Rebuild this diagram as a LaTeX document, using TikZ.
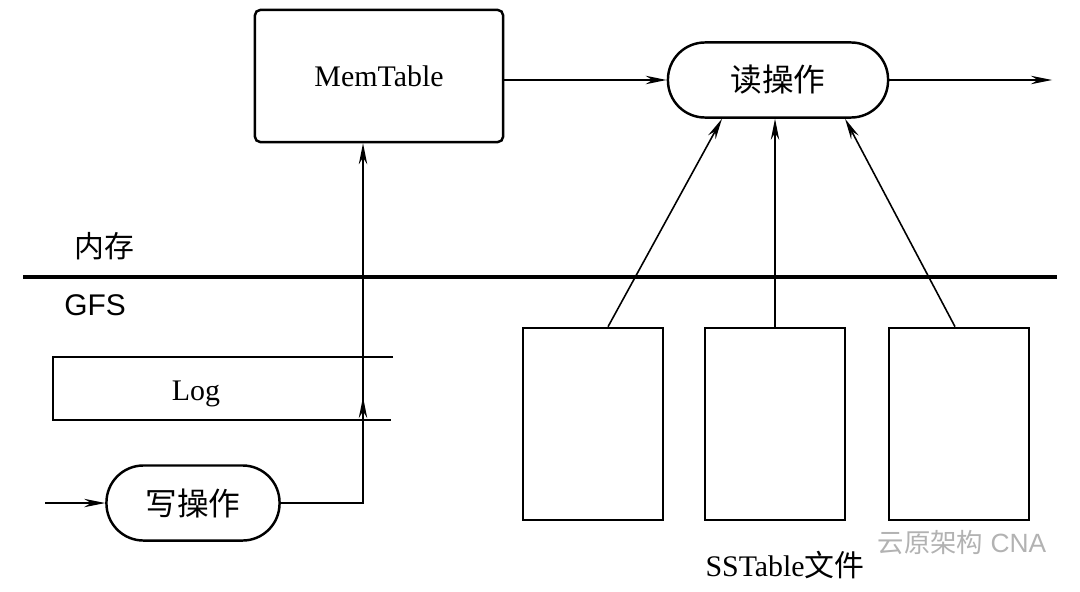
\documentclass[tikz,border=0pt]{standalone}
\usepackage{fontspec}
\setmainfont{Liberation Serif}
\newfontfamily\cjk{Noto Sans CJK SC}
\newfontfamily\arial{Liberation Sans}
\usetikzlibrary{arrows.meta}

\begin{document}
\begin{tikzpicture}[x=0.01cm, y=-0.01cm,
        font=\fontsize{8.5}{10}\selectfont,
        box/.style={draw, line width=0.7pt, rounded corners=1.5pt, inner sep=0pt},
        oval/.style={draw, line width=0.7pt, rounded corners=0.37cm, minimum height=0.75cm,
            inner sep=0pt, font=\cjk\fontsize{9}{10}\selectfont},
        flow/.style={-{Stealth[length=6pt, width=2.4pt]}, line width=0.45pt}]
        \useasboundingbox (0,0) rectangle (1080,591);

        % Memory: MemTable and read operation
        \node[box, minimum width=2.48cm, minimum height=1.32cm] (mem) at (379,76) {MemTable};
        \node[oval, minimum width=2.2cm] (rd) at (778,80) {读操作};
        \coordinate (out) at (1052,80);
        \draw[flow] (mem.east |- rd.west) -- (rd.west);
        \draw[flow] (rd.east) -- (out);

        % Divider between memory and GFS
        \node[font=\cjk\fontsize{8.5}{10}\selectfont] (ram) at (104,246) {内存};
        \node[font=\arial\fontsize{8.5}{10}\selectfont] (gfs) at (95,305) {GFS};
        \draw[line width=0.9pt] (23,277) -- (1057,277);

        % Log
        \draw[line width=0.7pt] (393,357) -- (53,357) -- (53,420) -- (391,420);
        \node (log) at (196,394) {Log};

        % Write operation
        \node[oval, minimum width=1.73cm] (wr) at (193,503) {写操作};
        \coordinate (in) at (45,503);
        \coordinate (wbend) at (363,503);
        \draw[flow] (in) -- (wr.west);
        \draw[flow] (wr.east) -- (wbend) -- (wbend |- mem.south);
        \draw[flow] (wbend) -- ++(0,-106);

        % SSTable files
        \foreach \x/\n in {593/1, 775/2, 959/3}
            \node[box, rounded corners=0pt, minimum width=1.4cm, minimum height=1.92cm] (ss\n) at (\x,424) {};
        \draw[flow] ([xshift=0.15cm]ss1.north) -- ([xshift=-0.56cm]rd.south);
        \draw[flow] (ss2.north) -- (ss2.north |- rd.south);
        \draw[flow] ([xshift=-0.04cm]ss3.north) -- ([xshift=0.67cm]rd.south);
        \node (sstxt) at (785,565) {SSTable{\cjk 文件}};

        % Watermark
        \node[text=black!30, font=\arial\fontsize{7.5}{9}\selectfont] (mark) at (962,543) {{\cjk 云原架构} CNA};
    \end{tikzpicture}
\end{document}
